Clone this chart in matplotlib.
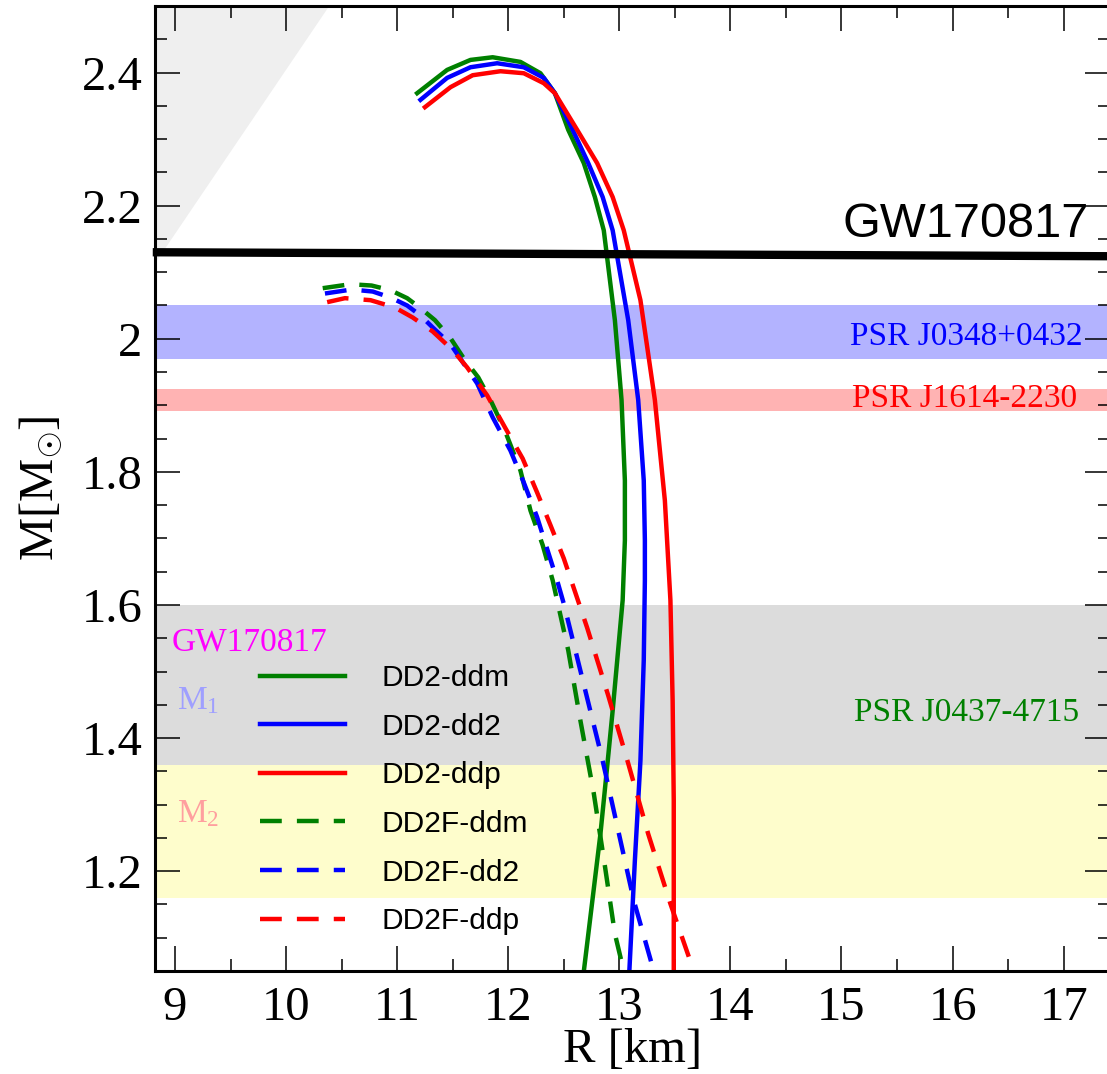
import numpy as np
import matplotlib
matplotlib.use("Agg")
import matplotlib.pyplot as plt
from matplotlib import ticker

plt.rcParams['font.family'] = ['Liberation Serif', 'DejaVu Serif']
plt.rcParams['mathtext.fontset'] = 'custom'
plt.rcParams['mathtext.rm'] = 'Liberation Serif'
plt.rcParams['mathtext.it'] = 'Liberation Serif:italic'

# mass-radius curves, R in km and M in solar masses
r_dd2_ddm = [11.18, 11.45, 11.66, 11.86, 12.11, 12.29, 12.42, 12.54, 12.68, 12.78,
             12.86, 12.96, 13.02, 13.05, 13.05, 13.05, 13.04, 13.03, 12.94, 12.89,
             12.83, 12.68]
m_dd2_ddm = [2.369, 2.404, 2.419, 2.423, 2.416, 2.399, 2.369, 2.314, 2.264, 2.213,
             2.163, 2.028, 1.908, 1.787, 1.742, 1.697, 1.652, 1.607, 1.441, 1.356,
             1.256, 1.049]

r_dd2_dd2 = [11.21, 11.45, 11.66, 11.90, 12.14, 12.32, 12.42, 12.58, 12.72, 12.85,
             12.94, 13.08, 13.17, 13.22, 13.23, 13.23, 13.22, 13.19, 13.14, 13.09]
m_dd2_dd2 = [2.359, 2.392, 2.408, 2.414, 2.408, 2.392, 2.369, 2.314, 2.264, 2.213,
             2.163, 2.028, 1.908, 1.787, 1.697, 1.637, 1.517, 1.366, 1.216, 1.049]

r_dd2_ddp = [11.25, 11.48, 11.68, 11.93, 12.14, 12.32, 12.42, 12.62, 12.80, 12.94,
             13.04, 13.19, 13.32, 13.41, 13.44, 13.46, 13.48, 13.49, 13.49]
m_dd2_ddp = [2.348, 2.378, 2.396, 2.402, 2.399, 2.384, 2.369, 2.314, 2.264, 2.213,
             2.163, 2.058, 1.908, 1.757, 1.667, 1.607, 1.456, 1.306, 1.049]

r_dd2f_ddm = [10.33, 10.58, 10.77, 10.94, 11.09, 11.21, 11.34, 11.48, 11.61, 11.73,
              11.84, 11.97, 12.11, 12.20, 12.31, 12.40, 12.54, 12.65, 12.77, 12.87,
              12.96, 13.04]
m_dd2f_ddm = [2.076, 2.082, 2.080, 2.073, 2.061, 2.046, 2.028, 2.001, 1.968, 1.942,
              1.908, 1.862, 1.802, 1.742, 1.690, 1.637, 1.532, 1.426, 1.317, 1.208,
              1.106, 1.050]

r_dd2f_dd2 = [10.35, 10.59, 10.78, 10.94, 11.09, 11.21, 11.32, 11.48, 11.61, 11.72,
              11.86, 12.02, 12.14, 12.26, 12.36, 12.44, 12.50, 12.69, 12.85, 12.99,
              13.13, 13.31]
m_dd2f_dd2 = [2.068, 2.074, 2.071, 2.062, 2.050, 2.035, 2.017, 1.992, 1.960, 1.933,
              1.882, 1.832, 1.784, 1.732, 1.679, 1.637, 1.602, 1.474, 1.366, 1.261,
              1.156, 1.050]

r_dd2f_ddp = [10.37, 10.53, 10.76, 10.98, 11.14, 11.32, 11.50, 11.63, 11.81, 11.97,
              12.13, 12.26, 12.38, 12.50, 12.71, 12.90, 13.08, 13.26, 13.46, 13.67]
m_dd2f_ddp = [2.055, 2.061, 2.058, 2.047, 2.032, 2.011, 1.983, 1.957, 1.915, 1.867,
              1.820, 1.769, 1.720, 1.670, 1.566, 1.464, 1.362, 1.256, 1.151, 1.050]

# causality corner and GW170817 upper bound
causal_r = [8.5, 10.6]
causal_m = [2.036, 2.554]
gw_r = [8.80, 17.45]
gw_m = [2.130, 2.124]

# observed mass bands
psr_j0348 = (1.97, 2.05)
psr_j1614 = (1.892, 1.924)
gw_m1 = (1.36, 1.60)
gw_m2 = (1.16, 1.36)

fig = plt.figure(figsize=(11.07, 10.74), dpi=100)
ax = fig.add_axes([0.140, 0.0959, 0.863, 0.8985])
ax.set_xlim(8.82, 17.42)
ax.set_ylim(1.05, 2.5)

ax.fill_between(causal_r, causal_m, 2.6, color='#efefef', lw=0, zorder=0)
ax.axhspan(*psr_j0348, color='#b3b3ff', lw=0, zorder=0)
ax.axhspan(*psr_j1614, color='#ffb3b3', lw=0, zorder=0)
ax.axhspan(*gw_m1, color='#dcdcdc', lw=0, zorder=0)
ax.axhspan(*gw_m2, color='#fefdcc', lw=0, zorder=0)
ax.plot(gw_r, gw_m, color='k', lw=6, solid_capstyle='butt', zorder=3, clip_on=False)

lw = 3.2
dash = (4.9, 3.4)
ax.plot(r_dd2_ddm, m_dd2_ddm, color='#008000', lw=lw, label='DD2-ddm')
ax.plot(r_dd2_dd2, m_dd2_dd2, color='#0000ff', lw=lw, label='DD2-dd2')
ax.plot(r_dd2_ddp, m_dd2_ddp, color='#ff0000', lw=lw, label='DD2-ddp')
ax.plot(r_dd2f_ddm, m_dd2f_ddm, color='#008000', lw=lw, dashes=dash, label='DD2F-ddm')
ax.plot(r_dd2f_dd2, m_dd2f_dd2, color='#0000ff', lw=lw, dashes=dash, label='DD2F-dd2')
ax.plot(r_dd2f_ddp, m_dd2f_ddp, color='#ff0000', lw=lw, dashes=dash, label='DD2F-ddp')

leg = ax.legend(loc='upper left', bbox_to_anchor=(0.110, 0.318), frameon=False,
                prop={'family': 'Liberation Sans', 'size': 21.5},
                handlelength=2.85, handletextpad=1.2, labelspacing=0.69,
                borderpad=0, borderaxespad=0)

# annotations
ax.text(17.225, 2.153, 'GW170817', family='Liberation Sans', fontsize=35,
        ha='right', va='baseline')
ax.text(17.17, 1.990, 'PSR J0348+0432', color='#0000ff', fontsize=24,
        ha='right', va='baseline')
ax.text(17.12, 1.897, 'PSR J1614-2230', color='#ff0000', fontsize=24,
        ha='right', va='baseline')
ax.text(17.14, 1.426, 'PSR J0437-4715', color='#008000', fontsize=24,
        ha='right', va='baseline')
ax.text(8.97, 1.532, 'GW170817', color='#ff00ff', fontsize=24, ha='left', va='baseline')
ax.text(9.02, 1.444, r'$\mathrm{M}_{1}$', color='#9f9fff', fontsize=24,
        ha='left', va='baseline')
ax.text(9.02, 1.273, r'$\mathrm{M}_{2}$', color='#ff9f9f', fontsize=24,
        ha='left', va='baseline')

ax.set_xlabel('R [km]', fontsize=35, labelpad=-2)
ax.set_ylabel(r'M[$\mathrm{M}_{\odot}$]', fontsize=35, labelpad=12)

ax.xaxis.set_major_locator(ticker.MultipleLocator(1))
ax.xaxis.set_minor_locator(ticker.MultipleLocator(0.5))
ax.yaxis.set_major_locator(ticker.MultipleLocator(0.2))
ax.yaxis.set_minor_locator(ticker.MultipleLocator(0.05))
ax.yaxis.set_major_formatter(ticker.StrMethodFormatter('{x:g}'))
ax.tick_params(which='both', direction='in', top=True, right=True, width=1.1)
ax.tick_params(which='major', length=18, labelsize=35)
ax.tick_params(which='minor', length=8.6)
ax.tick_params(axis='x', which='major', pad=11)
ax.tick_params(axis='y', which='major', pad=9)
for s in ax.spines.values():
    s.set_linewidth(2.2)

fig.savefig('out.png', dpi=100)
